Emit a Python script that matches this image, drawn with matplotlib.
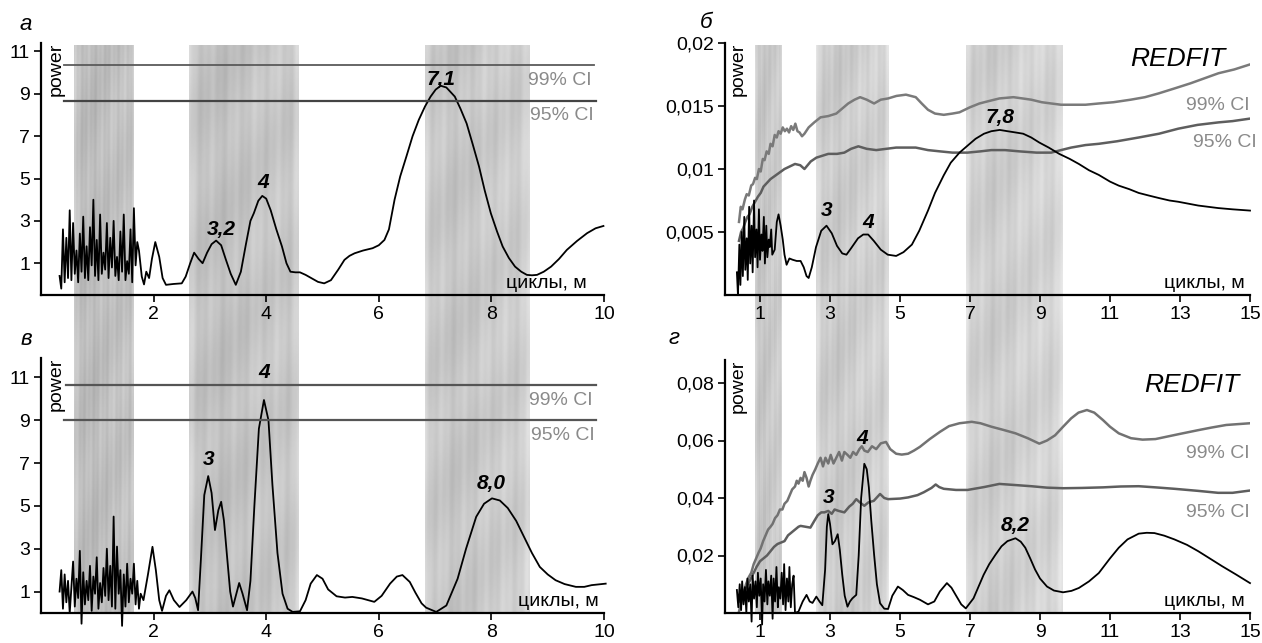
import numpy as np
import matplotlib.pyplot as plt

plt.rcParams['font.family'] = ['Liberation Sans', 'DejaVu Sans']

# ---------------- data ----------------
# panel а (periodogram, period in m vs power)
a_noise = [(0.33,0.4),(0.36,-0.2),(0.39,2.6),(0.42,0.1),(0.45,2.2),(0.48,0.3),(0.51,3.5),(0.54,0.2),
           (0.57,2.9),(0.60,0.5),(0.63,1.6),(0.66,0.1),(0.69,2.4),(0.72,0.6),(0.75,3.2),(0.78,0.3),
           (0.81,1.8),(0.84,0.2),(0.87,2.7),(0.90,0.9),(0.93,4.0),(0.96,0.4),(0.99,2.1),(1.02,0.2),
           (1.05,3.3),(1.08,0.5),(1.11,1.5),(1.14,0.7),(1.17,2.9),(1.20,0.3),(1.23,2.2),(1.26,0.8),
           (1.29,3.0),(1.32,0.4),(1.35,1.3),(1.38,0.2),(1.41,2.5),(1.44,0.6),(1.47,3.3),(1.50,0.2),
           (1.53,1.1),(1.56,0.5),(1.59,2.6),(1.62,0.1),(1.65,3.6),(1.68,0.9),(1.71,2.0),(1.74,1.6)]
a_curve = [(1.79,0.37),(1.83,0.0),(1.87,0.6),(1.92,0.3),(1.97,1.2),(2.03,2.0),(2.1,1.3),(2.16,0.3),
           (2.22,-0.02),(2.35,0.02),(2.5,0.05),(2.57,0.37),(2.65,1.0),(2.72,1.5),(2.8,1.2),(2.87,1.0),
           (2.95,1.5),(3.03,1.9),(3.11,2.07),(3.2,1.85),(3.28,1.2),(3.37,0.5),(3.46,-0.02),(3.55,0.6),
           (3.64,1.9),(3.72,3.0),(3.78,3.36),(3.86,3.95),(3.93,4.18),(4.0,4.05),(4.08,3.5),(4.18,2.6),
           (4.28,1.79),(4.36,1.0),(4.43,0.6),(4.52,0.57),(4.6,0.57),(4.7,0.45),(4.8,0.3),(4.92,0.12),
           (5.03,0.05),(5.15,0.2),(5.28,0.7),(5.39,1.16),(5.48,1.35),(5.57,1.47),(5.72,1.6),(5.89,1.71),
           (6.0,1.85),(6.1,2.1),(6.18,2.6),(6.28,4.0),(6.38,5.1),(6.49,6.04),(6.6,7.0),(6.71,7.77),
           (6.82,8.4),(6.92,8.87),(7.01,9.2),(7.1,9.38),(7.2,9.3),(7.35,8.87),(7.45,8.3),(7.56,7.6),
           (7.67,6.6),(7.78,5.57),(7.88,4.45),(7.99,3.36),(8.1,2.5),(8.2,1.79),(8.31,1.25),(8.42,0.84),
           (8.53,0.6),(8.63,0.45),(8.72,0.43),(8.81,0.45),(8.93,0.6),(9.06,0.84),(9.2,1.2),(9.34,1.63),
           (9.52,2.05),(9.7,2.42),(9.85,2.65),(9.99,2.76)]
a_ci99 = 10.34
a_ci95 = 8.68

# panel в
v_noise = [(0.33,1.0),(0.36,2.0),(0.39,0.2),(0.42,1.8),(0.45,0.5),(0.48,1.5),(0.51,0.0),(0.54,1.2),
           (0.57,2.4),(0.60,0.3),(0.63,1.6),(0.66,0.7),(0.69,2.9),(0.72,-0.5),(0.75,1.9),(0.78,0.4),
           (0.81,1.5),(0.84,0.6),(0.87,2.2),(0.90,0.1),(0.93,1.7),(0.96,0.9),(0.99,2.6),(1.02,0.2),
           (1.05,1.4),(1.08,0.5),(1.11,2.1),(1.14,0.8),(1.17,3.0),(1.20,0.6),(1.23,2.2),(1.26,0.3),
           (1.29,4.5),(1.32,0.2),(1.35,3.1),(1.38,0.9),(1.41,2.0),(1.44,-0.6),(1.47,1.8),(1.50,0.3),
           (1.53,2.3),(1.56,0.5),(1.59,1.6),(1.62,0.9),(1.65,2.3),(1.68,0.4),(1.71,1.5),(1.74,0.2),
           (1.77,0.9)]
v_curve = [(1.82,0.6),(1.9,1.8),(1.98,3.09),(2.04,2.0),(2.1,0.6),(2.15,0.1),(2.22,0.8),(2.28,1.06),
           (2.36,0.6),(2.46,0.28),(2.58,0.6),(2.69,1.0),(2.74,0.7),(2.79,0.13),(2.84,2.5),(2.9,5.5),
           (2.97,6.39),(3.03,5.6),(3.09,3.87),(3.15,4.8),(3.2,5.19),(3.25,4.3),(3.3,2.78),(3.36,1.0),
           (3.41,0.3),(3.47,0.9),(3.52,1.4),(3.58,0.9),(3.66,0.13),(3.72,1.5),(3.79,5.0),(3.87,8.6),
           (3.96,9.94),(4.04,9.0),(4.11,6.0),(4.2,2.8),(4.29,0.9),(4.38,0.2),(4.47,0.05),(4.6,0.08),
           (4.7,0.6),(4.79,1.37),(4.9,1.77),(5.0,1.6),(5.1,1.1),(5.25,0.78),(5.4,0.72),(5.53,0.75),
           (5.7,0.68),(5.92,0.52),(6.05,0.8),(6.2,1.37),(6.32,1.7),(6.42,1.77),(6.55,1.45),(6.65,0.95),
           (6.76,0.45),(6.84,0.25),(7.02,0.05),(7.2,0.35),(7.4,1.6),(7.55,3.0),(7.73,4.49),(7.87,5.1),
           (8.01,5.35),(8.15,5.25),(8.29,4.9),(8.44,4.3),(8.58,3.55),(8.72,2.8),(8.86,2.15),(9.0,1.8),
           (9.14,1.53),(9.3,1.35),(9.5,1.22),(9.65,1.22),(9.78,1.3),(10.03,1.37)]
v_ci99 = 10.63
v_ci95 = 9.0

# panel б (REDFIT)
b_noise = [(0.34,0.0018),(0.37,0.0),(0.41,0.004),(0.44,0.0008),(0.48,0.005),(0.51,0.0015),
           (0.55,0.0062),(0.58,0.002),(0.62,0.0045),(0.65,0.0012),(0.69,0.007),(0.72,0.0025),
           (0.76,0.0055),(0.79,0.0018),(0.83,0.0075),(0.86,0.003),(0.90,0.0052),(0.93,0.0022),
           (0.97,0.0068),(1.00,0.0028),(1.04,0.0048),(1.07,0.0035),(1.11,0.0062),(1.14,0.0025),
           (1.18,0.0055),(1.21,0.003),(1.25,0.0044),(1.28,0.0038),(1.32,0.0052),(1.35,0.0032)]
b_curve = [(1.42,0.0036),(1.48,0.0058),(1.53,0.0064),(1.59,0.0055),(1.65,0.0044),(1.7,0.0032),
           (1.76,0.0024),(1.84,0.0029),(1.93,0.0028),(2.05,0.0027),(2.16,0.0027),(2.25,0.0022),
           (2.33,0.0015),(2.39,0.00135),(2.48,0.0022),(2.6,0.0038),(2.75,0.0051),(2.9,0.0055),
           (3.05,0.0049),(3.2,0.0039),(3.35,0.0033),(3.47,0.0032),(3.6,0.0037),(3.8,0.0045),
           (3.95,0.0048),(4.09,0.0048),(4.25,0.0043),(4.45,0.0036),(4.65,0.0032),(4.89,0.0031),
           (5.1,0.0034),(5.34,0.004),(5.55,0.0051),(5.8,0.0067),(6.0,0.0081),(6.25,0.0095),
           (6.45,0.0105),(6.7,0.0113),(6.95,0.0119),(7.16,0.0124),(7.4,0.0128),(7.61,0.013),
           (7.85,0.0131),(8.07,0.013),(8.3,0.0129),(8.52,0.0128),(8.75,0.0125),(8.98,0.0121),
           (9.25,0.0117),(9.55,0.0112),(9.85,0.0108),(10.11,0.0104),(10.4,0.0099),(10.68,0.00953),
           (11.0,0.009),(11.25,0.00868),(11.55,0.0084),(11.82,0.0081),(12.1,0.0079),(12.39,0.0077),
           (12.7,0.0075),(12.95,0.0074),(13.52,0.0071),(14.09,0.0069),(14.5,0.0068),(15.0,0.0067)]
b_ci99 = [(0.40,0.0058),(0.45,0.0070),(0.50,0.0068),(0.57,0.0076),(0.62,0.0080),(0.68,0.0079),
          (0.75,0.0087),(0.80,0.0088),(0.86,0.0093),(0.91,0.0092),(0.97,0.0100),(1.02,0.0098),
          (1.08,0.0108),(1.13,0.0107),(1.19,0.0114),(1.25,0.0112),(1.30,0.0120),(1.36,0.0118),
          (1.42,0.0127),(1.48,0.0125),(1.53,0.0130),(1.59,0.0128),(1.65,0.0133),(1.71,0.0130),
          (1.77,0.0132),(1.83,0.0129),(1.89,0.0134),(1.95,0.0131),(2.01,0.0136),(2.07,0.0130),
          (2.13,0.0129),(2.20,0.0126),(2.27,0.0128),(2.39,0.0133),(2.55,0.0137),(2.73,0.0141),
          (2.95,0.0142),(3.18,0.0144),(3.35,0.0148),(3.52,0.0152),(3.7,0.0155),(3.86,0.0157),
          (4.05,0.0155),(4.26,0.0152),(4.45,0.0155),(4.66,0.0156),(4.9,0.0158),(5.17,0.0159),
          (5.45,0.0157),(5.62,0.0152),(5.8,0.0147),(6.0,0.0144),(6.25,0.0143),(6.5,0.0144),
          (6.7,0.0145),(7.0,0.0149),(7.27,0.0152),(7.55,0.0154),(7.84,0.0156),(8.24,0.0157),
          (8.5,0.0156),(8.75,0.0155),(9.05,0.0153),(9.32,0.0152),(9.6,0.0151),(9.89,0.0151),
          (10.3,0.0151),(10.68,0.0152),(11.1,0.0153),(11.59,0.0155),(12.0,0.0157),(12.39,0.016),
          (12.85,0.0164),(13.3,0.0168),(13.7,0.0172),(14.1,0.0176),(14.55,0.0179),(15.0,0.0183)]
b_ci95 = [(0.40,0.0043),(0.46,0.0050),(0.52,0.0053),(0.58,0.0058),(0.64,0.0062),(0.70,0.0064),
          (0.78,0.0070),(0.86,0.0074),(0.94,0.0078),(1.02,0.0081),(1.10,0.0086),(1.20,0.0089),
          (1.30,0.0092),(1.40,0.0094),(1.50,0.0096),(1.60,0.0098),(1.70,0.0100),(1.85,0.0102),
          (2.0,0.0104),(2.15,0.0103),(2.27,0.0100),(2.45,0.0106),(2.61,0.0109),(2.95,0.0112),
          (3.2,0.0112),(3.41,0.0113),(3.6,0.0116),(3.81,0.0118),(4.05,0.0116),(4.32,0.0115),
          (4.6,0.0116),(4.89,0.0117),(5.2,0.0117),(5.45,0.0117),(5.8,0.0115),(6.14,0.0114),
          (6.5,0.0113),(6.93,0.0113),(7.3,0.0114),(7.61,0.0115),(8.0,0.0115),(8.41,0.0114),
          (8.9,0.0113),(9.32,0.0113),(9.6,0.0115),(9.89,0.0117),(10.3,0.0119),(10.68,0.012),
          (11.2,0.0122),(11.82,0.0125),(12.4,0.0128),(12.95,0.0132),(13.5,0.0135),(14.1,0.0137),
          (14.5,0.0138),(15.0,0.014)]

# panel г (REDFIT)
g_noise = [(0.34,0.008),(0.38,0.002),(0.42,0.010),(0.46,0.001),(0.49,0.011),(0.53,0.003),
           (0.57,0.009),(0.61,0.000),(0.64,0.012),(0.68,0.004),(0.72,0.010),(0.76,-0.003),
           (0.79,0.013),(0.83,0.005),(0.87,0.011),(0.91,0.002),(0.94,0.014),(0.98,0.006),
           (1.02,0.012),(1.06,-0.004),(1.09,0.010),(1.13,0.004),(1.17,0.015),(1.21,0.003),
           (1.24,0.011),(1.28,0.006),(1.32,0.013),(1.36,-0.002),(1.39,0.012),(1.43,0.004),
           (1.47,0.016),(1.51,0.002),(1.54,0.009),(1.58,0.005),(1.62,0.014),(1.66,0.003),
           (1.69,0.017),(1.73,0.001),(1.77,0.012),(1.81,0.004),(1.84,0.016),(1.88,0.002),
           (1.92,0.010),(1.96,0.013)]
g_curve = [(2.0,0.0),(2.1,0.0005),(2.22,0.004),(2.33,0.0063),(2.42,0.004),(2.5,0.0035),(2.61,0.0057),
           (2.7,0.004),(2.78,0.0027),(2.86,0.015),(2.91,0.03),(2.95,0.0344),(3.0,0.031),(3.07,0.0239),
           (3.14,0.025),(3.22,0.0274),(3.28,0.022),(3.35,0.0133),(3.42,0.006),(3.5,0.0022),(3.57,0.004),
           (3.64,0.0051),(3.75,0.0063),(3.82,0.02),(3.89,0.04),(3.98,0.0519),(4.05,0.05),(4.11,0.0437),
           (4.18,0.032),(4.26,0.0203),(4.34,0.01),(4.43,0.0034),(4.55,0.0015),(4.66,0.0014),(4.78,0.006),
           (4.94,0.0092),(5.08,0.008),(5.23,0.0063),(5.4,0.0055),(5.57,0.0046),(5.8,0.003),(5.98,0.004),
           (6.14,0.0075),(6.34,0.0104),(6.47,0.0088),(6.59,0.0063),(6.75,0.003),(6.88,0.0016),(7.1,0.0051),
           (7.39,0.0133),(7.55,0.017),(7.73,0.0203),(7.9,0.0232),(8.07,0.025),(8.3,0.026),(8.45,0.0248),
           (8.58,0.0227),(8.72,0.019),(8.86,0.0151),(9.0,0.012),(9.2,0.0092),(9.4,0.0078),(9.66,0.0072),
           (9.9,0.0077),(10.11,0.0087),(10.4,0.011),(10.68,0.0139),(11.0,0.019),(11.25,0.0227),
           (11.5,0.0256),(11.82,0.0276),(12.05,0.0279),(12.27,0.0278),(12.55,0.0269),(12.84,0.0256),
           (13.2,0.0237),(13.52,0.0215),(13.9,0.0186),(14.2,0.0163),(14.6,0.0134),(15.0,0.0104)]
g_ci99 = [(0.40,0.0005),(0.47,0.004),(0.53,0.007),(0.60,0.010),(0.68,0.0125),(0.75,0.014),(0.82,0.017),
          (0.89,0.019),(0.96,0.021),(1.02,0.0225),(1.09,0.025),(1.16,0.027),(1.23,0.029),(1.30,0.030),
          (1.36,0.031),(1.43,0.033),(1.50,0.034),(1.57,0.036),(1.64,0.036),(1.70,0.038),(1.78,0.039),
          (1.85,0.041),(1.92,0.043),(2.00,0.044),(2.05,0.046),(2.10,0.045),(2.16,0.047),(2.22,0.046),
          (2.27,0.049),(2.33,0.047),(2.39,0.044),(2.44,0.046),(2.50,0.048),(2.58,0.050),(2.65,0.052),
          (2.73,0.054),(2.80,0.051),(2.87,0.054),(2.95,0.052),(3.02,0.055),(3.10,0.052),(3.18,0.054),
          (3.26,0.056),(3.34,0.053),(3.41,0.056),(3.50,0.055),(3.58,0.054),(3.66,0.056),(3.75,0.055),
          (3.84,0.057),(3.91,0.058),(3.98,0.0565),(4.08,0.056),(4.20,0.058),(4.32,0.057),(4.45,0.059),
          (4.60,0.0595),(4.72,0.057),(4.89,0.0554),(5.05,0.0551),(5.23,0.0554),(5.4,0.0565),
          (5.57,0.0578),(5.85,0.0605),(6.14,0.063),(6.4,0.065),(6.7,0.066),(7.05,0.0665),(7.3,0.066),
          (7.61,0.0648),(7.95,0.0637),(8.3,0.0625),(8.65,0.0608),(8.98,0.0589),(9.2,0.060),
          (9.43,0.0618),(9.66,0.0648),(9.89,0.0677),(10.1,0.0697),(10.34,0.0706),(10.55,0.0697),
          (10.8,0.0671),(11.0,0.0648),(11.25,0.0625),(11.6,0.0608),(11.93,0.0603),(12.3,0.0605),
          (12.61,0.0613),(13.0,0.0623),(13.52,0.0636),(13.9,0.0645),(14.32,0.0654),(15.0,0.066)]
g_ci95 = [(0.40,0.004),(0.50,0.006),(0.60,0.009),(0.70,0.011),(0.80,0.0135),(0.90,0.016),(1.00,0.018),
          (1.10,0.019),(1.20,0.020),(1.30,0.0215),(1.40,0.023),(1.50,0.024),(1.60,0.0245),(1.70,0.025),
          (1.80,0.027),(1.90,0.028),(2.00,0.029),(2.10,0.030),(2.16,0.0303),(2.30,0.030),(2.44,0.0297),
          (2.55,0.032),(2.65,0.034),(2.75,0.035),(2.84,0.035),(2.95,0.0355),(3.05,0.0345),(3.13,0.036),
          (3.25,0.0355),(3.41,0.035),(3.55,0.037),(3.65,0.038),(3.75,0.0396),(3.85,0.0385),(3.98,0.0373),
          (4.10,0.0385),(4.25,0.039),(4.43,0.0414),(4.55,0.040),(4.66,0.0396),(5.0,0.0398),(5.23,0.0402),
          (5.5,0.041),(5.68,0.042),(5.9,0.0435),(6.02,0.0447),(6.12,0.0438),(6.25,0.0432),(6.6,0.0428),
          (6.93,0.0428),(7.4,0.0438),(7.84,0.0449),(8.3,0.0445),(8.75,0.0441),(9.2,0.0436),(9.66,0.0434),
          (10.2,0.0435),(10.8,0.0437),(11.3,0.044),(11.82,0.0441),(12.3,0.0437),(12.84,0.0432),
          (13.5,0.0425),(14.09,0.0418),(14.5,0.0418),(15.0,0.0426)]

# shaded cycle bands (m) and their grey level
bands_left = [(0.59, 1.65, 0.76), (2.62, 4.56, 0.78), (6.82, 8.68, 0.80)]
bands_right = [(0.85, 1.62, 0.80), (2.60, 4.68, 0.82), (6.88, 9.65, 0.83)]

# peak labels: (x, y centre, text)
a_peaks = [(3.2, 2.6, '3,2'), (3.95, 4.8, '4'), (7.1, 9.66, '7,1')]
v_peaks = [(2.97, 7.17, '3'), (3.96, 11.2, '4'), (8.0, 6.05, '8,0')]
b_peaks = [(2.9, 0.0067, '3'), (4.1, 0.00575, '4'), (7.85, 0.0141, '7,8')]
g_peaks = [(2.95, 0.0402, '3'), (3.93, 0.0607, '4'), (8.3, 0.0306, '8,2')]

# ---------------- figure ----------------
W, H = 1262, 643
fig = plt.figure(figsize=(W / 100, H / 100), dpi=100)

def fx(px):
    return px / W

def fy(py):
    return 1 - py / H

def textured_band(ax, x0, x1, level, phase):
    xx = np.linspace(0, 1, 60)[None, :]
    yy = np.linspace(0, 1, 200)[:, None]
    img = (level
           + 0.018 * np.sin(2 * np.pi * 5 * xx + phase)
           + 0.015 * np.sin(2 * np.pi * 13 * xx + 5 * yy + 2 * phase)
           + 0.02 * np.sin(2 * np.pi * 4 * yy + 7 * xx + phase)
           - 0.03 * np.exp(-((xx - 0.3) / 0.25) ** 2)
           + 0.04 * np.exp(-(xx / 0.04) ** 2) + 0.04 * np.exp(-((1 - xx) / 0.04) ** 2))
    ax.imshow(np.clip(img, 0, 1), extent=(x0, x1, 0, 1), cmap='gray', vmin=0, vmax=1,
              aspect='auto', interpolation='bilinear')

# background band axes for each column
col_l = (fx(41), fx(604) - fx(41))
col_r = (fx(725), fx(1250) - fx(725))
for (left, width), bands, xmax in [(col_l, bands_left, 10), (col_r, bands_right, 15)]:
    bg = fig.add_axes([left, fy(613), width, fy(45) - fy(613)], zorder=0)
    for i, (x0, x1, lev) in enumerate(bands):
        textured_band(bg, x0, x1, lev, i * 1.3)
    bg.set_xlim(0, xmax)
    bg.set_ylim(0, 1)
    bg.axis('off')

def make_axes(left, width, top_px, bot_px):
    ax = fig.add_axes([left, fy(bot_px), width, fy(top_px) - fy(bot_px)], zorder=1)
    ax.set_facecolor('none')
    for s in ('top', 'right'):
        ax.spines[s].set_visible(False)
    for s in ('left', 'bottom'):
        ax.spines[s].set_linewidth(1.6)
    ax.tick_params(direction='out', length=5, width=1.2, labelsize=14, pad=3)
    return ax

def xy(pairs):
    arr = np.array(pairs)
    return arr[:, 0], arr[:, 1]

lab_kw = dict(fontsize=14, color='#8a8a8a')
peak_kw = dict(fontsize=15, fontweight='bold', fontstyle='italic', ha='center', va='center')

def finish(ax, xticks, yticks, yticklabels, power_x, cyc_x):
    ax.set_xticks(xticks)
    ax.set_yticks(yticks)
    ax.set_yticklabels(yticklabels)
    ax.text(power_x, 1.0, 'power', rotation=90, ha='left', va='top', fontsize=14,
            transform=ax.transAxes)
    ax.text(cyc_x, 0.012, 'циклы, м', ha='right', va='bottom', fontsize=14,
            transform=ax.transAxes)

# --- а ---
ax = make_axes(col_l[0], col_l[1], 43, 295)
x1, y1 = xy(a_noise)
x2, y2 = xy(a_curve)
ax.plot(np.r_[x1, x2], np.r_[y1, y2], color='black', lw=1.3, clip_on=False)
ax.plot([0.4, 9.82], [a_ci99, a_ci99], color='#5a5a5a', lw=1.3)
ax.plot([0.4, 9.86], [a_ci95, a_ci95], color='#444444', lw=1.6)
ax.text(9.78, a_ci99 - 0.3, '99% CI', ha='right', va='top', **lab_kw)
ax.text(9.82, a_ci95 - 0.3, '95% CI', ha='right', va='top', **lab_kw)
for px_, py_, t in a_peaks:
    ax.text(px_, py_, t, **peak_kw)
ax.set_xlim(0, 10)
ax.set_ylim(-0.5, 11.4)
finish(ax, [2, 4, 6, 8, 10], [1, 3, 5, 7, 9, 11], ['1', '3', '5', '7', '9', '11'], 0.012, 0.97)

# --- в ---
ax = make_axes(col_l[0], col_l[1], 358, 613)
x1, y1 = xy(v_noise)
x2, y2 = xy(v_curve)
ax.plot(np.r_[x1, x2], np.r_[y1, y2], color='black', lw=1.3, clip_on=False)
ax.plot([0.44, 9.85], [v_ci99, v_ci99], color='#555555', lw=1.6)
ax.plot([0.4, 9.85], [v_ci95, v_ci95], color='#555555', lw=1.6)
ax.text(9.8, v_ci99 - 0.3, '99% CI', ha='right', va='top', **lab_kw)
ax.text(9.83, v_ci95 - 0.3, '95% CI', ha='right', va='top', **lab_kw)
for px_, py_, t in v_peaks:
    ax.text(px_, py_, t, **peak_kw)
ax.set_xlim(0, 10)
ax.set_ylim(0, 11.9)
finish(ax, [2, 4, 6, 8, 10], [1, 3, 5, 7, 9, 11], ['1', '3', '5', '7', '9', '11'], 0.012, 0.99)

# --- б ---
ax = make_axes(col_r[0], col_r[1], 43, 295)
x1, y1 = xy(b_noise)
x2, y2 = xy(b_curve)
ax.plot(*xy(b_ci99), color='#7a7a7a', lw=1.8)
ax.plot(*xy(b_ci95), color='#5e5e5e', lw=1.8)
ax.plot(np.r_[x1, x2], np.r_[y1, y2], color='black', lw=1.3, clip_on=False)
ax.text(15.0, 0.0157, '99% CI', ha='right', va='top', **lab_kw)
ax.text(15.2, 0.0128, '95% CI', ha='right', va='top', **lab_kw)
ax.text(14.3, 0.0187, 'REDFIT', ha='right', va='center', fontsize=19, fontstyle='italic')
for px_, py_, t in b_peaks:
    ax.text(px_, py_, t, **peak_kw)
ax.set_xlim(0, 15)
ax.set_ylim(0, 0.02)
finish(ax, [1, 3, 5, 7, 9, 11, 13, 15], [0.005, 0.01, 0.015, 0.02],
       ['0,005', '0,01', '0,015', '0,02'], 0.008, 0.99)

# --- г ---
ax = make_axes(col_r[0], col_r[1], 360, 613)
x1, y1 = xy(g_noise)
x2, y2 = xy(g_curve)
ax.plot(*xy(g_ci99), color='#727272', lw=1.8)
ax.plot(*xy(g_ci95), color='#5e5e5e', lw=1.8)
ax.plot(np.r_[x1, x2], np.r_[y1, y2], color='black', lw=1.3, clip_on=False)
ax.text(15.0, 0.0585, '99% CI', ha='right', va='top', **lab_kw)
ax.text(15.0, 0.038, '95% CI', ha='right', va='top', **lab_kw)
ax.text(14.7, 0.0794, 'REDFIT', ha='right', va='center', fontsize=19, fontstyle='italic')
for px_, py_, t in g_peaks:
    ax.text(px_, py_, t, **peak_kw)
ax.set_xlim(0, 15)
ax.set_ylim(0, 0.088)
finish(ax, [1, 3, 5, 7, 9, 11, 13, 15], [0.02, 0.04, 0.06, 0.08],
       ['0,02', '0,04', '0,06', '0,08'], 0.008, 0.99)

# panel letters
for px_, py_, t in [(26, 25, 'а'), (706, 23, 'б'), (26, 340, 'в'), (674, 339, 'г')]:
    fig.text(fx(px_), fy(py_), t, fontsize=16, fontstyle='italic', ha='center', va='center')

fig.savefig('out.png', dpi=100)
